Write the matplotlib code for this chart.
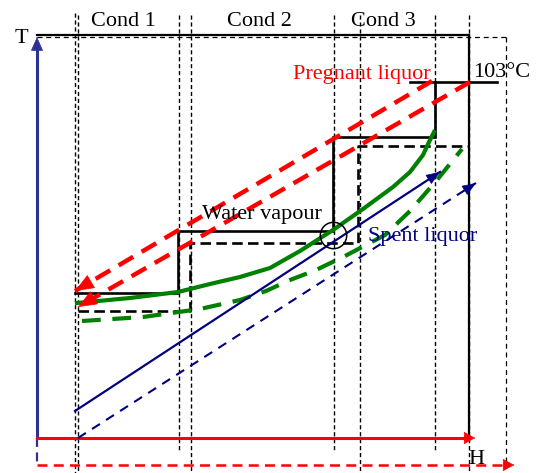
import matplotlib
matplotlib.use("Agg")
import matplotlib.pyplot as plt
import numpy as np

# ---------------- data (H, T in arbitrary diagram units) ----------------
# Condensing steam staircase (solid) and flashed-vapour staircase (dashed)
vap_solid_H = [75, 178, 178, 333, 333, 435, 435]
vap_solid_T = [180, 180, 242, 242, 336, 336, 391]
iso103_H = [410, 497]
iso103_T = [391, 391]
vap_dash_H = [78, 190, 190, 358, 358, 469]
vap_dash_T = [162, 162, 230, 230, 327, 327]

# Green curves
green_solid_H = [77, 130, 178, 210, 240, 270, 300, 333, 363, 393, 410, 423, 429, 434]
green_solid_T = [170, 175, 181, 189, 196, 205, 222, 243, 264, 286, 301, 318, 331, 341]
green_dash_H = [82, 143, 200, 240, 266, 290, 316, 345, 385, 410, 437, 462]
green_dash_T = [152, 156, 164, 173, 182, 193, 203, 217, 238, 262, 293, 324]

# Spent liquor (blue) lines
spent_solid_H = [75, 440]
spent_solid_T = [62, 301]
spent_dash_H = [78, 476]
spent_dash_T = [35, 290]

# Pregnant liquor (red) lines, drawn from hot end to cold end
preg_upper_H = [432, 75]
preg_upper_T = [392, 182]
preg_lower_H = [470, 78]
preg_lower_T = [391, 166]

# Pinch point
pinch_H = [333]
pinch_T = [238]

# Condenser boundaries
cond_solid_H = [75, 179, 334, 435]
cond_dash_H = [78, 191, 360, 469]
cond_labels = ["Cond 1", "Cond 2", "Cond 3"]
cond_label_H = [91, 227, 351]

# ---------------- figure ----------------
fig = plt.figure(figsize=(5.36, 4.73), dpi=100)
ax = fig.add_axes([0, 0, 1, 1])
ax.set_xlim(0, 536)
ax.set_ylim(0, 473)
ax.axis("off")

serif = "Liberation Serif"
FS = 16

RED = "#ff0000"
GREEN = "#008000"
NAVY = "#000080"
AXBLUE = "#2e3192"


def arrow_head(ax, H, T, color, scale, hl, hw, z=5):
    """Filled arrowhead at the last point of (H, T), pointing along the segment."""
    h0, t0, h1, t1 = H[-2], T[-2], H[-1], T[-1]
    d = np.hypot(h1 - h0, t1 - t0)
    back = 0.5
    ax.annotate("", xy=(h1, t1),
                xytext=(h1 - (h1 - h0) / d * back, t1 - (t1 - t0) / d * back),
                arrowprops=dict(arrowstyle=f"-|>,head_length={hl},head_width={hw}",
                                color=color, lw=0.5, shrinkA=0, shrinkB=0,
                                mutation_scale=scale),
                zorder=z)


# thin dotted condenser boundaries
for h in cond_solid_H:
    ax.plot([h, h], [460 if h == 75 else 458, 0 if h == 75 else 22], color="black",
            lw=1.0, dashes=(3, 2), zorder=1)
for h in cond_dash_H:
    ax.plot([h, h], [458, 0], color="black", lw=1.0, dashes=(3, 2), zorder=1)

# frame: solid and dashed
ax.plot([37, 469], [438, 438], color="black", lw=1.6, zorder=2)
ax.plot([469, 469], [438, 36], color="black", lw=1.6, zorder=2)
ax.plot([37, 506], [436, 436], color="black", lw=0.9, dashes=(4, 3), zorder=2)
ax.plot([506, 506], [436, 8], color="black", lw=0.9, dashes=(4, 3), zorder=2)

# T axis (blue) and H axes (red)
ax.plot([37, 37], [35, 428], color=AXBLUE, lw=2.2, zorder=3)
arrow_head(ax, [37, 37], [35, 436], AXBLUE, 10, 0.9, 0.4)
ax.plot([37, 37], [35, 8], color=AXBLUE, lw=1.6, dashes=(4, 2.5), zorder=3)
ax.plot([37, 468], [35, 35], color=RED, lw=2.2, zorder=3)
arrow_head(ax, [37, 475], [35, 35], RED, 9, 0.8, 0.45)
ax.plot([37, 506], [8, 8], color=RED, lw=1.8, dashes=(4, 2.5), zorder=3)
arrow_head(ax, [37, 514], [8, 8], RED, 9, 0.8, 0.45)

# staircases
ax.plot(vap_solid_H, vap_solid_T, color="black", lw=1.9, zorder=4,
        solid_joinstyle="miter")
ax.plot(iso103_H, iso103_T, color="black", lw=1.9, zorder=4)
ax.plot(vap_dash_H, vap_dash_T, color="black", lw=1.9, dashes=(4, 2), zorder=4)

# green curves
ax.plot(green_solid_H, green_solid_T, color=GREEN, lw=3.0, zorder=5)
ax.plot(green_dash_H, green_dash_T, color=GREEN, lw=3.0, dashes=(4.5, 2.8), zorder=5)

# spent liquor
ax.plot(spent_solid_H, spent_solid_T, color=NAVY, lw=1.6, zorder=5)
arrow_head(ax, spent_solid_H, spent_solid_T, NAVY, 10, 0.9, 0.35, z=6)
ax.plot(spent_dash_H, spent_dash_T, color=NAVY, lw=1.5, dashes=(4.5, 3.5), zorder=5)
arrow_head(ax, spent_dash_H, spent_dash_T, NAVY, 10, 0.9, 0.35, z=6)

# pregnant liquor
ax.plot(preg_upper_H, preg_upper_T, color=RED, lw=3.2, dashes=(3.8, 2.2), zorder=5)
arrow_head(ax, preg_upper_H, preg_upper_T, RED, 18, 0.7, 0.28, z=6)
ax.plot(preg_lower_H, preg_lower_T, color=RED, lw=3.2, dashes=(3.8, 2.2), zorder=5)
arrow_head(ax, preg_lower_H, preg_lower_T, RED, 18, 0.7, 0.28, z=6)

# pinch circle
ax.plot(pinch_H, pinch_T, marker="o", ms=19, mfc="none", mec="black", mew=1.1,
        ls="none", zorder=7)

# texts
for lab, h in zip(cond_labels, cond_label_H):
    ax.text(h, 447, lab, family=serif, fontsize=FS, ha="left", va="baseline")
ax.text(15, 430, "T", family=serif, fontsize=FS, ha="left", va="baseline")
ax.text(468, 9, "H", family=serif, fontsize=FS, ha="left", va="baseline")
ax.text(293, 394, "Pregnant liquor", family=serif, fontsize=FS, color=RED,
        ha="left", va="baseline", zorder=8)
ax.text(473, 396, "103°C", family=serif, fontsize=FS, ha="left", va="baseline")
ax.text(202, 254, "Water vapour", family=serif, fontsize=FS, ha="left",
        va="baseline", zorder=8)
ax.text(368, 232, "Spent liquor", family=serif, fontsize=FS, color=NAVY,
        ha="left", va="baseline", zorder=8)

fig.savefig("out.png", dpi=100)
